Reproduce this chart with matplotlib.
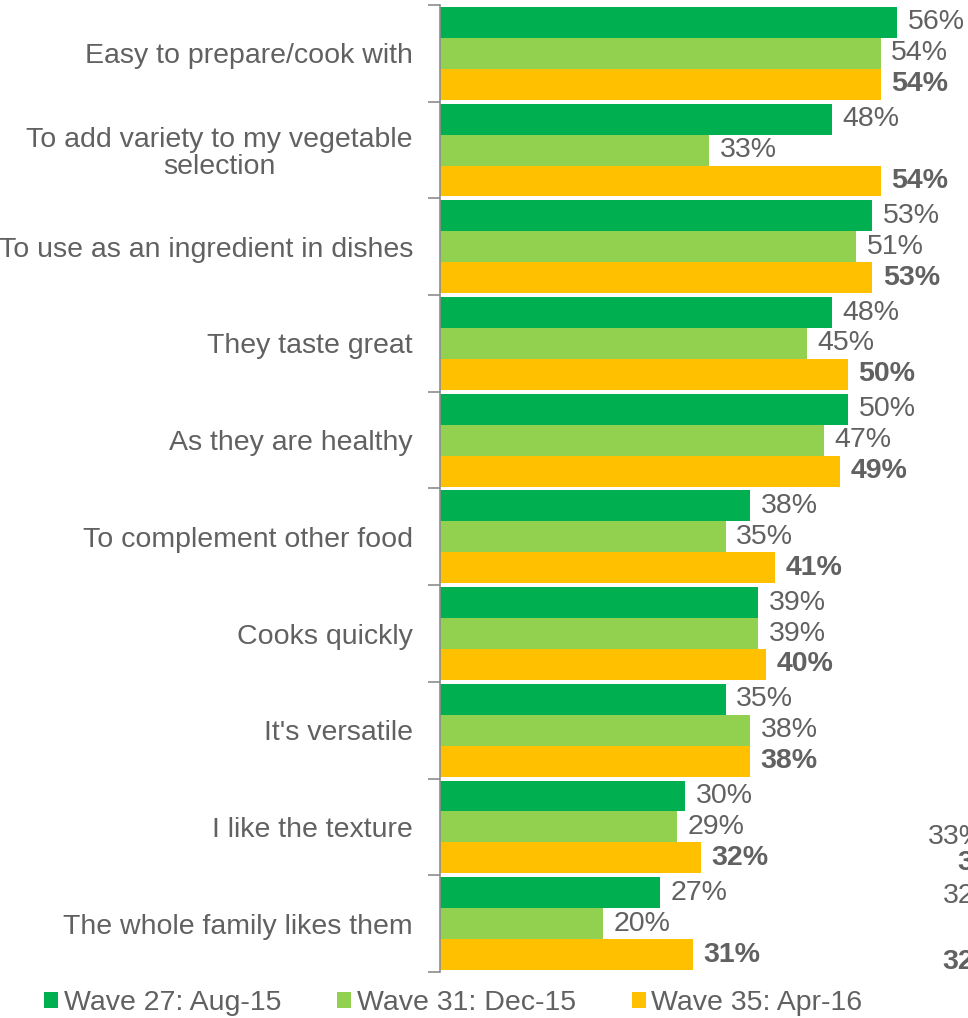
import numpy as np
import matplotlib
matplotlib.use('Agg')
import matplotlib.pyplot as plt
from matplotlib.patches import Patch

plt.rcParams['font.family'] = ['Liberation Sans', 'DejaVu Sans']

# Reasons for buying, top to bottom
reasons = [
    "Easy to prepare/cook with",
    "To add variety to my vegetable\nselection",
    "To use as an ingredient in dishes",
    "They taste great",
    "As they are healthy",
    "To complement other food",
    "Cooks quickly",
    "It's versatile",
    "I like the texture",
    "The whole family likes them",
]

waves = ["Wave 27: Aug-15", "Wave 31: Dec-15", "Wave 35: Apr-16"]
wave27 = [56, 48, 53, 48, 50, 38, 39, 35, 30, 27]
wave31 = [54, 33, 51, 45, 47, 35, 39, 38, 29, 20]
wave35 = [54, 54, 53, 50, 49, 41, 40, 38, 32, 31]

# leftover labels sitting at the right edge (text, bar slot, bold)
edge_labels = [("33%", 8.10, False), ("33%", 8.37, True), ("32%", 8.71, False), ("32%", 9.40, True)]
edge_x = [59.8, 63.4, 61.6, 61.6]

colors = ["#00B050", "#92D050", "#FFC000"]
text_col = "#616161"

fig = plt.figure(figsize=(9.68, 10.18), dpi=100)
ax = fig.add_axes([440 / 968, 46 / 1018, 528 / 968, 967 / 1018])

y = np.arange(len(reasons))
h = 0.32
series = [wave27, wave31, wave35]
for k, (vals, col) in enumerate(zip(series, colors)):
    pos = y + (k - 1) * h
    ax.barh(pos, vals, height=h, color=col, edgecolor='none')
    for p, v in zip(pos, vals):
        ax.text(v + 1.3, p, f"{v}%", va='center', ha='left', fontsize=20.5,
                color=text_col, fontweight='bold' if k == 2 else 'normal')

for (txt, slot, bold), xv in zip(edge_labels, edge_x):
    ax.text(xv, slot, txt, va='center', ha='left', fontsize=20.5, color=text_col,
            fontweight='bold' if bold else 'normal', clip_on=True)

ax.set_xlim(0, 528 / 8.16)
ax.set_ylim(len(reasons) - 0.5, -0.5)
ax.set_xticks([])

ax.set_yticks(y)
ax.set_yticklabels(reasons, fontsize=20.5, color=text_col, multialignment='center',
                   linespacing=1.05)
ax.tick_params(axis='y', which='major', length=0, pad=19.5)
ax.set_yticks(np.arange(len(reasons) + 1) - 0.5, minor=True)
ax.tick_params(axis='y', which='minor', length=9, width=1.2, color='#8C8C8C')

for s in ['top', 'right', 'bottom']:
    ax.spines[s].set_visible(False)
ax.spines['left'].set_color('#8C8C8C')
ax.spines['left'].set_linewidth(1.2)

handles = [Patch(facecolor=c, edgecolor='none') for c in colors]
fig.legend(handles, waves, loc='center left', bbox_to_anchor=(44 / 968, 1 - 1003 / 1018),
           ncol=3, frameon=False, fontsize=20.5, handlelength=0.5, handleheight=0.5,
           handletextpad=0.2, columnspacing=1.95, borderpad=0, borderaxespad=0,
           labelcolor=text_col)

fig.savefig('out.png', dpi=100)
